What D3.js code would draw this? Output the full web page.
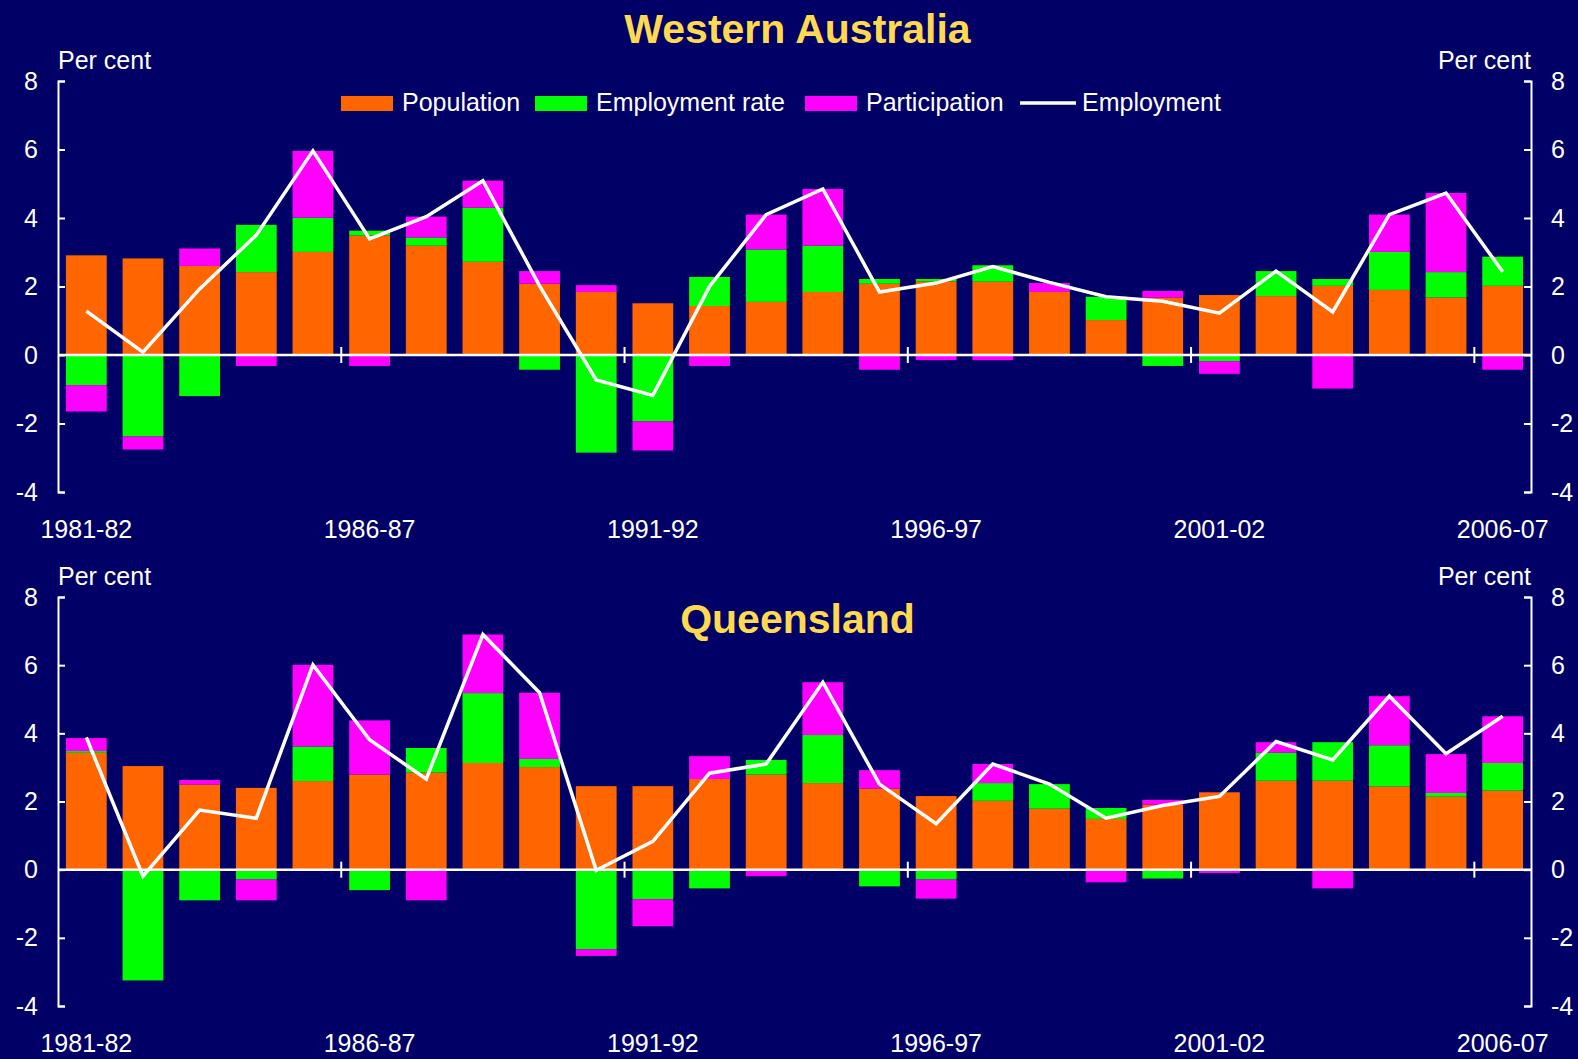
<!DOCTYPE html>
<html lang="en">
<head>
<meta charset="utf-8">
<title>Employment growth decomposition - WA and Queensland</title>
<script src="https://d3js.org/d3.v7.min.js"></script>
<style>
  body{margin:0;background:#000066;}
  svg text{font-family:"Liberation Sans",Arial,Helvetica,sans-serif;fill:#ffffff;}
</style>
</head>
<body>
<div id="chart"></div>
<script>
// financial years on the x axis
var years = ["1981-82","1982-83","1983-84","1984-85","1985-86","1986-87","1987-88","1988-89","1989-90",
             "1990-91","1991-92","1992-93","1993-94","1994-95","1995-96","1996-97","1997-98","1998-99",
             "1999-00","2000-01","2001-02","2002-03","2003-04","2004-05","2005-06","2006-07"]
var tickYears = ["1981-82","1986-87","1991-92","1996-97","2001-02","2006-07"]
var yTicks = [-4,-2,0,2,4,6,8]

// Western Australia, contributions in per cent
var waPopulation    = [2.91,2.82,2.60,2.42,3.01,3.49,3.19,2.72,2.08,1.84,1.51,1.43,1.55,1.84,2.08,2.15,2.14,1.84,1.02,1.68,1.75,1.72,2.02,1.90,1.68,2.02]
var waEmpRate       = [-0.88,-2.38,-1.20,1.38,1.00,0.14,0.24,1.58,-0.43,-2.85,-1.94,0.85,1.53,1.35,0.14,0.07,0.48,0,0.68,-0.32,-0.18,0.73,0.20,1.11,0.74,0.85]
var waParticipation = [-0.77,-0.38,0.51,-0.32,1.95,-0.32,0.61,0.79,0.37,0.20,-0.85,-0.32,1.02,1.66,-0.43,-0.15,-0.15,0.26,0,0.19,-0.37,0,-0.98,1.09,2.31,-0.43]
var waEmployment    = [1.28,0.08,1.93,3.50,5.96,3.39,4.04,5.09,2.02,-0.73,-1.18,2.00,4.10,4.85,1.84,2.10,2.58,2.12,1.70,1.57,1.22,2.45,1.26,4.10,4.73,2.43]

// Queensland
var qldPopulation    = [3.43,3.04,2.50,2.40,2.60,2.79,2.85,3.13,3.01,2.45,2.45,2.66,2.79,2.54,2.38,2.16,2.02,1.79,1.49,1.91,2.27,2.61,2.61,2.44,2.14,2.32]
var qldEmpRate       = [0.05,-3.25,-0.90,-0.29,1.01,-0.60,0.72,2.05,0.24,-2.34,-0.87,-0.55,0.43,1.41,-0.49,-0.29,0.52,0.72,0.32,-0.26,0,0.82,1.13,1.21,0.11,0.81]
var qldParticipation = [0.38,0,0.13,-0.61,2.40,1.59,-0.90,1.72,1.94,-0.19,-0.79,0.67,-0.19,1.55,0.54,-0.56,0.56,0,-0.37,0.14,-0.10,0.31,-0.55,1.44,1.14,1.37]
var qldEmployment    = [3.88,-0.19,1.75,1.51,6.01,3.81,2.66,6.90,5.19,-0.02,0.83,2.83,3.10,5.50,2.51,1.35,3.10,2.51,1.51,1.88,2.15,3.76,3.22,5.09,3.40,4.50]

var seriesKeys = ["Population","Employment rate","Participation"]
var seriesColors = {"Population":"#ff6600","Employment rate":"#00ff00","Participation":"#ff00ff"}

var W = 1578, H = 1059
var left = 58, right = 1531

var svg = d3.select("#chart").append("svg")
    .attr("width", W).attr("height", H)
    .style("display","block")

svg.append("rect").attr("width",W).attr("height",H).attr("fill","#000066")

var x = d3.scaleBand().domain(years).range([left,right]).paddingInner(0.28).paddingOuter(0.14)

function drawPanel(top, bottom, pop, emp, part, employment, title, titleY){
    var y = d3.scaleLinear().domain([-4,8]).range([bottom, top])
    var g = svg.append("g")

    var rows = years.map(function(yr,i){
        return {year:yr, "Population":pop[i], "Employment rate":emp[i], "Participation":part[i]}
    })
    var stacked = d3.stack().keys(seriesKeys).offset(d3.stackOffsetDiverging)(rows)

    g.selectAll("g.series")
      .data(stacked)
      .enter()
      .append("g")
      .attr("fill", function(d){ return seriesColors[d.key] })
      .selectAll("rect")
      .data(function(d){ return d })
      .enter()
      .append("rect")
      .attr("x", function(d){ return x(d.data.year) })
      .attr("width", x.bandwidth())
      .attr("y", function(d){ return y(Math.max(d[0],d[1])) })
      .attr("height", function(d){ return Math.abs(y(d[0]) - y(d[1])) })

    // axes, ticks pointing inwards; plain hyphen for negatives
    var fmt = function(d){ return String(d) }
    var la = g.append("g").attr("transform","translate("+left+",0)")
      .call(d3.axisLeft(y).tickValues(yTicks).tickFormat(fmt).tickSizeInner(-7).tickSizeOuter(-7).tickPadding(20))
    var ra = g.append("g").attr("transform","translate("+right+",0)")
      .call(d3.axisRight(y).tickValues(yTicks).tickFormat(fmt).tickSizeInner(-7).tickSizeOuter(-7).tickPadding(20))
    ;[la,ra].forEach(function(a){
        a.selectAll("path,line").attr("stroke","#ffffff").attr("stroke-width",2)
        a.selectAll("text").attr("fill","#ffffff").style("font-size","25px")
        a.attr("font-family",null)
    })

    // zero line with year ticks
    g.append("line").attr("x1",left).attr("x2",right)
      .attr("y1",y(0)).attr("y2",y(0))
      .attr("stroke","#ffffff").attr("stroke-width",2.5)
    g.selectAll("line.yt")
      .data([5,10,15,20,25])
      .enter()
      .append("line")
      .attr("x1", function(d){ return x(years[d]) - x.step()*x.paddingInner()/2 })
      .attr("x2", function(d){ return x(years[d]) - x.step()*x.paddingInner()/2 })
      .attr("y1", y(0)-8).attr("y2", y(0)+8)
      .attr("stroke","#ffffff").attr("stroke-width",2)

    // employment line
    var line = d3.line()
      .x(function(d,i){ return x(years[i]) + x.bandwidth()/2 })
      .y(function(d){ return y(d) })
    g.append("path").datum(employment)
      .attr("d", line)
      .attr("fill","none")
      .attr("stroke","#ffffff")
      .attr("stroke-width",3.5)
      .attr("stroke-linejoin","miter")

    // year labels
    g.selectAll("text.yl")
      .data(tickYears)
      .enter()
      .append("text")
      .attr("x", function(d){ return x(d) + x.bandwidth()/2 })
      .attr("y", bottom + 46)
      .attr("text-anchor","middle")
      .style("font-size","25px")
      .text(function(d){ return d })

    g.append("text").attr("x",left).attr("y",top-12).style("font-size","25px").text("Per cent")
    g.append("text").attr("x",right).attr("y",top-12).attr("text-anchor","end").style("font-size","25px").text("Per cent")

    g.append("text")
      .attr("x", (left+right)/2 + 3)
      .attr("y", titleY)
      .attr("text-anchor","middle")
      .style("font-size","41px")
      .style("font-weight","bold")
      .style("fill","#ffd94f")
      .text(title)
}

drawPanel(81, 492, waPopulation, waEmpRate, waParticipation, waEmployment, "Western Australia", 43)
drawPanel(597, 1006, qldPopulation, qldEmpRate, qldParticipation, qldEmployment, "Queensland", 633)

// legend in top panel
var legendItems = [
    {name:"Population", x:341, type:"rect"},
    {name:"Employment rate", x:535, type:"rect"},
    {name:"Participation", x:805, type:"rect"},
    {name:"Employment", x:1020, type:"line"}
]
var lg = svg.append("g")
legendItems.forEach(function(d){
    if(d.type=="rect"){
        lg.append("rect").attr("x",d.x).attr("y",96).attr("width",52).attr("height",15)
          .attr("fill",seriesColors[d.name])
    } else {
        lg.append("line").attr("x1",d.x).attr("x2",d.x+56).attr("y1",103).attr("y2",103)
          .attr("stroke","#ffffff").attr("stroke-width",3.5)
    }
    lg.append("text").attr("x", d.x + (d.type=="rect" ? 61 : 62)).attr("y",111)
      .style("font-size","25px").text(d.name)
})
</script>
</body>
</html>
